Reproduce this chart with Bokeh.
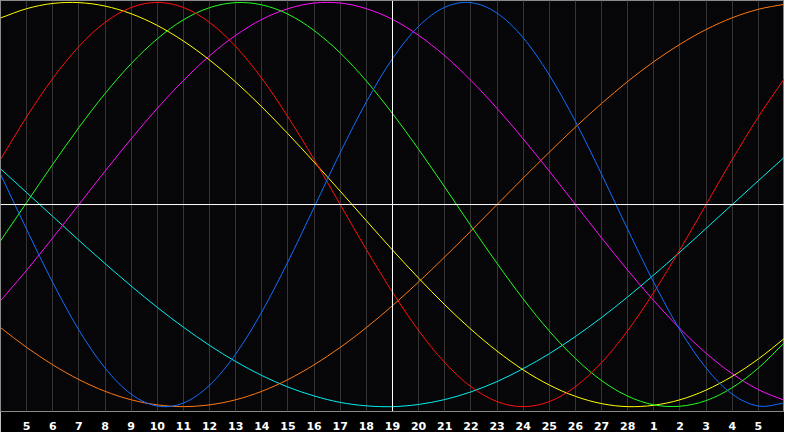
from bokeh.plotting import figure
from bokeh.models import Range1d, FixedTicker, Span
from bokeh.embed import file_html
from bokeh.resources import INLINE

# Days shown (0 = left edge, 30 = right edge)
days = list(range(31))

# Tick positions and their date labels
tick_days = list(range(1, 30))
tick_labels = ["5", "6", "7", "8", "9", "10", "11", "12", "13", "14", "15", "16",
               "17", "18", "19", "20", "21", "22", "23", "24", "25", "26", "27", "28",
               "1", "2", "3", "4", "5"]

# Today's marker
today = 15

# Cycle values (-1 .. 1), one per day
physical = [0.150, -0.123, -0.386, -0.621, -0.809, -0.938, -0.997, -0.982, -0.894, -0.740,
            -0.531, -0.283, -0.014, 0.257, 0.508, 0.722, 0.882, 0.976, 0.999, 0.947,
            0.825, 0.641, 0.411, 0.150, -0.123, -0.386, -0.621, -0.809, -0.938, -0.997, -0.982]
emotional = [0.223, 0.434, 0.624, 0.782, 0.901, 0.975, 1.000, 0.975, 0.901, 0.782,
             0.624, 0.434, 0.223, 0.000, -0.223, -0.434, -0.624, -0.782, -0.901, -0.975,
             -1.000, -0.975, -0.901, -0.782, -0.624, -0.434, -0.223, 0.000, 0.223, 0.434, 0.624]
intellectual = [-0.180, 0.010, 0.199, 0.381, 0.549, 0.697, 0.820, 0.914, 0.974, 0.999,
                0.988, 0.942, 0.861, 0.750, 0.611, 0.450, 0.273, 0.086, -0.105, -0.291,
                -0.467, -0.626, -0.762, -0.871, -0.948, -0.991, -0.998, -0.970, -0.906, -0.809, -0.683]
intuitive = [-0.476, -0.325, -0.165, 0.000, 0.165, 0.325, 0.476, 0.614, 0.736, 0.837,
             0.916, 0.969, 0.997, 0.997, 0.969, 0.916, 0.837, 0.736, 0.614, 0.476,
             0.325, 0.165, 0.000, -0.165, -0.325, -0.476, -0.614, -0.736, -0.837, -0.916, -0.969]
aesthetic = [0.923, 0.969, 0.995, 0.999, 0.982, 0.944, 0.886, 0.809, 0.715, 0.606,
             0.483, 0.350, 0.210, 0.066, -0.080, -0.225, -0.364, -0.496, -0.617, -0.725,
             -0.818, -0.893, -0.949, -0.985, -1.000, -0.993, -0.966, -0.918, -0.850, -0.764, -0.662]
awareness = [-0.609, -0.707, -0.793, -0.866, -0.924, -0.966, -0.991, -1.000, -0.991, -0.966,
             -0.924, -0.866, -0.793, -0.707, -0.609, -0.500, -0.383, -0.259, -0.131, 0.000,
             0.131, 0.259, 0.383, 0.500, 0.609, 0.707, 0.793, 0.866, 0.924, 0.966, 0.991]
spiritual = [0.177, 0.059, -0.059, -0.177, -0.292, -0.403, -0.509, -0.607, -0.697, -0.777,
             -0.846, -0.903, -0.947, -0.979, -0.996, -1.000, -0.989, -0.965, -0.927, -0.876,
             -0.812, -0.738, -0.653, -0.559, -0.457, -0.348, -0.235, -0.118, 0.000, 0.118, 0.235]

series = [
    (spiritual, "#00f0f0"),
    (awareness, "#ff7a10"),
    (aesthetic, "#ffff00"),
    (intuitive, "#ff10ff"),
    (intellectual, "#20ff20"),
    (emotional, "#ff1010"),
    (physical, "#1070ff"),
]

p = figure(width=784, height=432, output_backend="svg", toolbar_location=None,
           x_range=Range1d(0, 30), y_range=Range1d(-1.024, 1.0095),
           y_axis_location=None,
           min_border_left=0, min_border_right=0, min_border_top=0, min_border_bottom=20,
           background_fill_color="#060508", border_fill_color="#000000",
           outline_line_color="#8a8a8a", outline_line_width=1)

p.xaxis.ticker = FixedTicker(ticks=tick_days)
p.xaxis.major_label_overrides = {d: l for d, l in zip(tick_days, tick_labels)}
p.xaxis.axis_line_color = None
p.xaxis.major_tick_line_color = None
p.xaxis.minor_tick_line_color = None
p.xaxis.major_label_text_color = "#ffffff"
p.xaxis.major_label_text_font = "DejaVu Sans"
p.xaxis.major_label_text_font_style = "bold"
p.xaxis.major_label_text_font_size = "11px"
p.xaxis.major_label_standoff = 4

p.xgrid.ticker = FixedTicker(ticks=tick_days)
p.xgrid.grid_line_color = "#353535"
p.xgrid.grid_line_width = 1
p.ygrid.grid_line_color = None


def smooth_segments(xs, ys):
    """Catmull-Rom style Bezier segments passing through every data point."""
    n = len(xs)
    px = [2 * xs[0] - xs[1]] + list(xs) + [2 * xs[-1] - xs[-2]]
    py = [2 * ys[0] - ys[1]] + list(ys) + [2 * ys[-1] - ys[-2]]
    seg = dict(x0=[], y0=[], x1=[], y1=[], cx0=[], cy0=[], cx1=[], cy1=[])
    for i in range(n - 1):
        a, b, c, d = i, i + 1, i + 2, i + 3
        seg["x0"].append(px[b]); seg["y0"].append(py[b])
        seg["x1"].append(px[c]); seg["y1"].append(py[c])
        seg["cx0"].append(px[b] + (px[c] - px[a]) / 6.0)
        seg["cy0"].append(py[b] + (py[c] - py[a]) / 6.0)
        seg["cx1"].append(px[c] - (px[d] - px[b]) / 6.0)
        seg["cy1"].append(py[c] - (py[d] - py[b]) / 6.0)
    return seg


for vals, col in series:
    s = smooth_segments(days, vals)
    p.bezier(x0=s["x0"], y0=s["y0"], x1=s["x1"], y1=s["y1"],
             cx0=s["cx0"], cy0=s["cy0"], cx1=s["cx1"], cy1=s["cy1"],
             line_color=col, line_width=1)

p.add_layout(Span(location=0, dimension="width", line_color="#ffffff", line_width=1))
p.add_layout(Span(location=today, dimension="height", line_color="#ffffff", line_width=1))

open("out.html", "w").write(file_html(p, INLINE))
